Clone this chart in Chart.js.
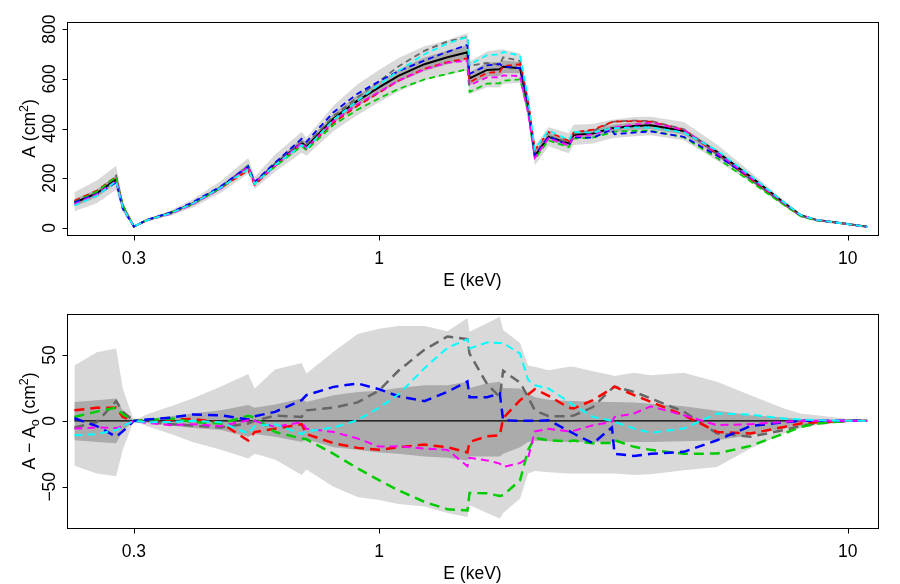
<!DOCTYPE html>
<html>
<head>
<meta charset="utf-8">
<title>Area efetiva</title>
<script src="https://cdn.jsdelivr.net/npm/chart.js"></script>
<style>
  html, body { margin: 0; padding: 0; background: #fff; }
  #painel { position: relative; width: 900px; height: 584px; }
  canvas { position: absolute; left: 0; }
  #graficoArea { top: 0; }
  #graficoResiduos { top: 292px; }
</style>
</head>
<body>
<div id="painel">
  <canvas id="graficoArea" width="900" height="292"></canvas>
  <canvas id="graficoResiduos" width="900" height="292"></canvas>
</div>
<script>
// Grade de energias (keV)
const energias = [0.224, 0.25, 0.275, 0.284, 0.30, 0.32, 0.36, 0.40, 0.46, 0.526, 0.543, 0.60, 0.684, 0.70,
  0.80, 0.90, 1.0, 1.1, 1.25, 1.4, 1.544, 1.56, 1.70, 1.81, 1.84, 2.0, 2.08, 2.15, 2.3, 2.54, 2.6, 2.86,
  3.14, 3.18, 3.5, 3.8, 4.47, 5.26, 6.2, 7.31, 7.93, 8.6, 10, 11.0];

// Area de referencia A0 (cm2) - linha preta
const areaRef = [101, 139, 195, 85, 5, 31, 60, 97, 163, 246, 181, 255, 343, 327,
  440, 512, 566, 612, 659, 687, 707, 602, 636, 639, 649, 643, 488, 290, 367, 340, 374, 380,
  401, 402, 410, 413, 390, 306, 206, 101, 51, 31, 15, 4];

// Residuos A - A0 (cm2) de cada curva tracejada
const resCinza = [-5, -1, 15, 7, 0, -1, -2.5, -3.5, -5, -2, 0, 4, 3, 8,
  10, 14, 23, 38, 54, 64, 62, 51, 28, 18, 38, 29, 18, 8, 3.5, 3.5, 4, 10.5,
  24.5, 26, 22, 17, 7, -9.5, -12, -7, -4, -1.5, 0, 0];
const resVermelho = [8, 10, 10, 3, 0, 0, 1, 1.5, -1.5, -15, -8.5, -6, -2.5, -10,
  -17, -20.5, -22, -20, -18, -20, -24, -16, -11.7, -11, 2, 15.7, 20, 24, 19, 10, 9.4, 15.7,
  24.6, 26, 19.5, 14.4, 4.3, -8.4, -9.6, -4.6, -2, -1, 0, 0];
const resVerde = [3, 7, 10, 5, 0, 0.5, 1.8, -0.8, -2, 3.8, 2.5, -8.4, -13.4, -14,
  -25, -36, -45, -52.7, -61.5, -67, -68, -54.7, -55, -57, -56.5, -45, -22, -13, -14.7, -15.5, -15, -17,
  -16.7, -14.7, -19.7, -22, -25, -24.8, -19, -9.6, -4.6, -2, 0, 0];
const resAzul = [2, -4, -12, -8, 0, 1, 2.5, 4.8, 4.3, 1, 3.5, 6.8, 15.7, 19.5,
  25.8, 28.4, 24, 18.7, 15, 22, 30, 18, 18, 20.8, 0.5, 0, 0, 0, 0.5, -7.6, -9.6, -17,
  -5, -25, -26.6, -25, -23.5, -14.7, -4, -1, 0, 0, 0, 0];
const resMagenta = [-5.8, -5, -5.5, -4, 0, -1.5, -3.3, -2.5, -4, 0.5, 0, -4.6, -1, -6,
  -8.4, -13.4, -19.5, -19.3, -21, -22, -34.4, -28, -30, -32.4, -35, -32, -28, -8, -6, -8, -7.6, -3.3,
  -0.8, 3, 5.6, 11, 4.3, -3.3, -2.5, -0.8, 0, 0, 0, 0];
const resCiano = [-11, -10, -7, -4, 0, -1, -0.8, 0, -1, -9.6, -4, -2.5, -10, -8,
  -5, 0.5, 10, 20, 40, 55.5, 62, 55, 59.5, 59, 59, 51, 31, 27, 24.6, 14.4, 12, 3,
  0, -0.8, -5.8, -9, -5.8, 5.6, 4.8, 1.8, 1, 0.5, 0, 0];

// Faixas de incerteza em torno de A0 (cm2)
const faixaExtSup = [42, 52, 55, 25, 0, 5, 11, 17, 26, 35.5, 24.6, 39, 44, 36,
  52.4, 66, 70, 72, 72, 68, 78, 67.6, 74, 79, 69, 59, 42, 41, 38.5, 41, 41, 37.7,
  34.7, 34, 36.5, 34.7, 36.5, 29.6, 19.5, 9.4, 5.6, 4.3, 1.5, 0];
const faixaExtInf = [-34, -40, -42, -22, 0, -4, -10, -16, -22, -28.6, -25, -29.4, -41, -37,
  -50, -57.8, -60, -63, -65, -70, -73, -64, -70, -74, -70, -59, -40, -38, -39, -40, -40, -40,
  -40, -40, -41, -40.5, -37.5, -35, -21, -9.6, -5.8, -3.3, -0.8, 0];
const faixaIntSup = [14.4, 15.7, 17, 8, 0, 1.5, 3.5, 5.5, 8, 12, 10, 12.5, 17, 14.4,
  19.5, 22, 22.8, 25, 27, 27, 29.6, 25, 28.4, 29.6, 25, 24.6, 21, 18, 16, 15, 15, 14.5,
  14.4, 14.4, 14, 13, 11, 7.6, 4.3, 2.5, 1.5, 1, 0.3, 0];
const faixaIntInf = [-14.7, -16, -17, -8, 0, -1.5, -3.5, -5.5, -7, -12, -10, -12, -16, -14,
  -20, -22, -24, -25, -27, -28, -30, -27, -27, -27, -25, -20, -16, -15, -15.5, -16, -16, -16,
  -16, -16, -16, -16, -15.5, -14.7, -11, -5.8, -4, -2, -0.3, 0];

// Eixos
const ticksX = [0.3, 1, 10];
const ticksArea = [0, 200, 400, 600, 800];
const ticksResiduo = [-50, 0, 50];
const nivelZero = 0;

const FONTE = "17.5px 'Liberation Sans', Arial, sans-serif";
const FONTE_PEQ = "12.5px 'Liberation Sans', Arial, sans-serif";
const COR_FAIXA_EXT = '#d9d9d9';
const COR_FAIXA_INT = '#ababab';

// Curvas tracejadas (a primeira fica por cima)
const curvas = [
  { res: resCiano, cor: '#00ffff', fina: true },
  { res: resMagenta, cor: '#ff00ff', fina: true },
  { res: resAzul, cor: '#0000ff', fina: false },
  { res: resVerde, cor: '#00cd00', fina: false },
  { res: resVermelho, cor: '#ff0000', fina: false },
  { res: resCinza, cor: '#666666', fina: false }
];

function pontos(valores) {
  return energias.map((e, i) => ({ x: e, y: valores[i] }));
}

// A = A0 + (A - A0)
function somarRef(valores) {
  return areaRef.map((a, i) => a + valores[i]);
}

function linha(dados, cor, largura, traco) {
  return {
    data: dados,
    borderColor: cor,
    borderWidth: largura,
    borderDash: traco,
    pointRadius: 0,
    fill: false,
    tension: 0
  };
}

function faixa(sup, inf, cor) {
  return [
    { data: pontos(sup), borderColor: 'rgba(0,0,0,0)', borderWidth: 1, pointRadius: 0, fill: false },
    { data: pontos(inf), borderColor: 'rgba(0,0,0,0)', borderWidth: 1, pointRadius: 0, fill: '-1', backgroundColor: cor }
  ];
}

// Desenha texto com partes em sobrescrito/subscrito
function textoRico(ctx, partes, cx, baseY) {
  let total = 0;
  partes.forEach(p => {
    ctx.font = p.pos ? FONTE_PEQ : FONTE;
    total += ctx.measureText(p.t).width;
  });
  let x = cx - total / 2;
  ctx.textAlign = 'left';
  partes.forEach(p => {
    ctx.font = p.pos ? FONTE_PEQ : FONTE;
    const dy = p.pos === 'sup' ? -7 : (p.pos === 'sub' ? 4 : 0);
    ctx.fillText(p.t, x, baseY + dy);
    x += ctx.measureText(p.t).width;
  });
}

// Caixa, marcas e rotulos no estilo do R
const eixosR = {
  id: 'eixosR',
  afterDraw(chart, args, opts) {
    const ctx = chart.ctx;
    const a = chart.chartArea;
    const sx = chart.scales.x;
    const sy = chart.scales.y;
    ctx.save();
    ctx.strokeStyle = '#000';
    ctx.fillStyle = '#000';
    ctx.lineWidth = 1;
    const esq = Math.round(a.left) + 0.5;
    const topo = Math.round(a.top) + 0.5;
    const dir = Math.round(a.right) + 0.5;
    const base = Math.round(a.bottom) + 0.5;
    ctx.strokeRect(esq, topo, dir - esq, base - topo);

    ctx.beginPath();
    ticksX.forEach(v => {
      const px = Math.round(sx.getPixelForValue(v)) + 0.5;
      ctx.moveTo(px, base);
      ctx.lineTo(px, base + 5);
    });
    opts.ticksY.forEach(v => {
      const py = Math.round(sy.getPixelForValue(v)) + 0.5;
      ctx.moveTo(esq, py);
      ctx.lineTo(esq - 5, py);
    });
    ctx.stroke();

    ctx.font = FONTE;
    ctx.textBaseline = 'alphabetic';
    ctx.textAlign = 'center';
    ticksX.forEach(v => {
      ctx.fillText(String(v), sx.getPixelForValue(v), base + 28);
    });
    textoRico(ctx, [{ t: 'E (keV)' }], (a.left + a.right) / 2, base + 50.5);

    opts.ticksY.forEach(v => {
      ctx.save();
      ctx.translate(esq - 13, sy.getPixelForValue(v));
      ctx.rotate(-Math.PI / 2);
      ctx.font = FONTE;
      ctx.textAlign = 'center';
      ctx.fillText(String(v).replace('-', '\u2212'), 0, 0);
      ctx.restore();
    });

    ctx.save();
    ctx.translate(34.5, (a.top + a.bottom) / 2);
    ctx.rotate(-Math.PI / 2);
    textoRico(ctx, opts.titulo, 0, 0);
    ctx.restore();
    ctx.restore();
  }
};

function opcoes(minY, maxY, ticksY, titulo) {
  return {
    responsive: false,
    animation: false,
    devicePixelRatio: 1,
    layout: { padding: { left: 67, right: 22, top: 22, bottom: 57 } },
    plugins: {
      legend: { display: false },
      tooltip: { enabled: false },
      eixosR: { ticksY: ticksY, titulo: titulo }
    },
    scales: {
      x: { type: 'logarithmic', min: 0.216, max: 11.6, display: false },
      y: { type: 'linear', min: minY, max: maxY, display: false }
    }
  };
}

function criarGraficos() {
  // Painel superior: area efetiva
  const dsArea = curvas.map(c => linha(pontos(somarRef(c.res)), c.cor, 1.8, [6, 4]));
  dsArea.push(linha(pontos(areaRef), '#000000', 2, []));
  dsArea.push(...faixa(somarRef(faixaIntSup), somarRef(faixaIntInf), COR_FAIXA_INT));
  dsArea.push(...faixa(somarRef(faixaExtSup), somarRef(faixaExtInf), COR_FAIXA_EXT));

  new Chart(document.getElementById('graficoArea'), {
    type: 'line',
    data: { datasets: dsArea },
    options: opcoes(-29, 829, ticksArea, [{ t: 'A (cm' }, { t: '2', pos: 'sup' }, { t: ')' }]),
    plugins: [eixosR]
  });

  // Painel inferior: residuos
  const dsRes = curvas.map(c => linha(pontos(c.res), c.cor, c.fina ? 2 : 2.5, c.fina ? [8, 5] : [10, 6]));
  dsRes.push(linha([{ x: energias[0], y: nivelZero }, { x: energias[energias.length - 1], y: nivelZero }], '#000000', 1.2, []));
  dsRes.push(...faixa(faixaIntSup, faixaIntInf, COR_FAIXA_INT));
  dsRes.push(...faixa(faixaExtSup, faixaExtInf, COR_FAIXA_EXT));

  const opRes = opcoes(-81.3, 81.1, ticksResiduo,
    [{ t: 'A \u2212 A' }, { t: 'o', pos: 'sub' }, { t: ' (cm' }, { t: '2', pos: 'sup' }, { t: ')' }]);
  opRes.layout.padding.bottom = 56;

  new Chart(document.getElementById('graficoResiduos'), {
    type: 'line',
    data: { datasets: dsRes },
    options: opRes,
    plugins: [eixosR]
  });
}

criarGraficos();
</script>
</body>
</html>
